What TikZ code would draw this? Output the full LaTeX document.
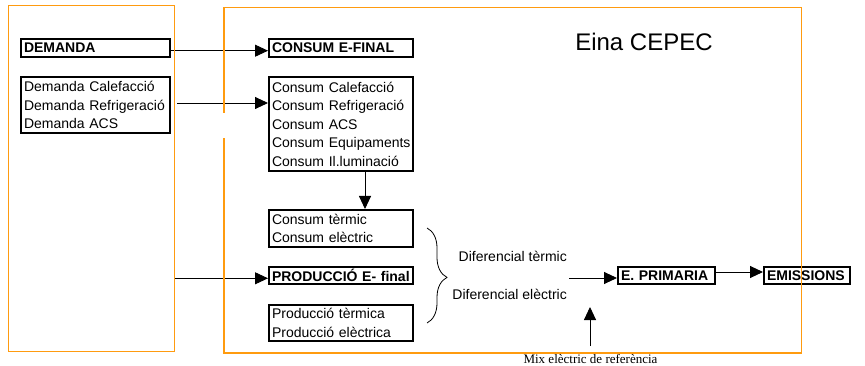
\documentclass[tikz,border=0pt]{standalone}
\usepackage{fontspec}
\setmainfont{Liberation Sans}
\newfontfamily\timesfont{Liberation Serif}
\usetikzlibrary{arrows.meta,decorations.pathreplacing}
\definecolor{frameorange}{RGB}{255,155,15}
\begin{document}
\begin{tikzpicture}[x=1pt,y=-1pt,
  box/.style={draw, line width=2pt, inner xsep=3pt, inner ysep=0pt, align=left,
    font=\fontsize{14}{18.5}\selectfont},
  boldbox/.style={box, font=\fontsize{14}{18.5}\selectfont\bfseries},
  flow/.style={draw=black, line width=0.9pt, -{Triangle[length=13pt,width=12pt]}},
  frame/.style={draw=frameorange, line width=1.6pt},
  sidetext/.style={font=\fontsize{14}{17}\selectfont, inner sep=0pt}
]
\useasboundingbox (0,0) rectangle (865,366);

% demand side
\node[boldbox, text width=143pt, minimum height=18pt] (dem) at (95.5,48) {DEMANDA};
\node[box, text width=143pt, minimum height=56pt] (demlist) at (95.5,105)
  {Demanda Calefacció\\Demanda Refrigeració\\Demanda ACS};

% final energy column
\node[boldbox, text width=138pt, minimum height=18pt] (cef) at (341,48) {CONSUM E-FINAL};
\node[box, text width=138pt, minimum height=94pt] (conlist) at (341,124)
  {Consum Calefacció\\Consum Refrigeració\\Consum ACS\\\mbox{Consum Equipaments}\\Consum Il.luminació};
\node[box, text width=138pt, minimum height=37pt] (contm) at (341,228.5)
  {Consum tèrmic\\Consum elèctric};
\node[boldbox, text width=138pt, minimum height=17pt] (prod) at (341,275.5) {PRODUCCIÓ E- final};
\node[box, text width=138pt, minimum height=36pt] (prodlist) at (341,323)
  {Producció tèrmica\\Producció elèctrica};

% primary energy and emissions
\node[boldbox, text width=91pt, minimum height=17pt] (eprim) at (666.5,275.5) {E. PRIMARIA};
\node[boldbox, text width=80pt, minimum height=17pt] (emis) at (807,275.5) {EMISSIONS};

\node[font=\fontsize{24}{28}\selectfont, inner sep=0pt, anchor=base] (title) at (644,50.7) {Eina CEPEC};

% balance labels
\node[sidetext, anchor=base east] (dt) at (567,261.7) {Diferencial tèrmic};
\node[sidetext, anchor=base east] (de) at (567,299) {Diferencial elèctric};
\node[font=\timesfont\fontsize{13}{15}\selectfont, inner sep=0pt, anchor=base] (mix) at (590.5,363.5)
  {Mix elèctric de referència};

% connectors
\draw[flow] ([yshift=-2.7pt]dem.east) -- ([yshift=-2.7pt]cef.west);
\coordinate (s2) at (177,103);
\draw[flow] (s2) -- (s2 -| conlist.west);
\coordinate (s3) at (174,278.3);
\draw[flow] (s3) -- (s3 -| prod.west);
\draw[flow] ([xshift=24pt]conlist.south) -- ([xshift=24pt]contm.north);
\coordinate (s4) at (569,278);
\draw[flow] (s4) -- (s4 -| eprim.west);
\draw[flow] ([yshift=3.5pt]eprim.east) -- ([yshift=3.5pt]emis.west);
\coordinate (m1) at (590,346);
\coordinate (m2) at (590,307);
\draw[flow] (m1) -- (m2);

% brace grouping consumption and production
\draw[line width=0.8pt, decorate, decoration={brace, amplitude=20pt, aspect=0.52}]
  (427,228) -- (427,323);

% orange frames
\draw[frame] (8.5,5.5) rectangle (174.5,351.5);
\draw[frame] (224,113) -- (224,7.5) -- (801.5,7.5) -- (801.5,353) -- (224,353) -- (224,138);
\end{tikzpicture}
\end{document}
